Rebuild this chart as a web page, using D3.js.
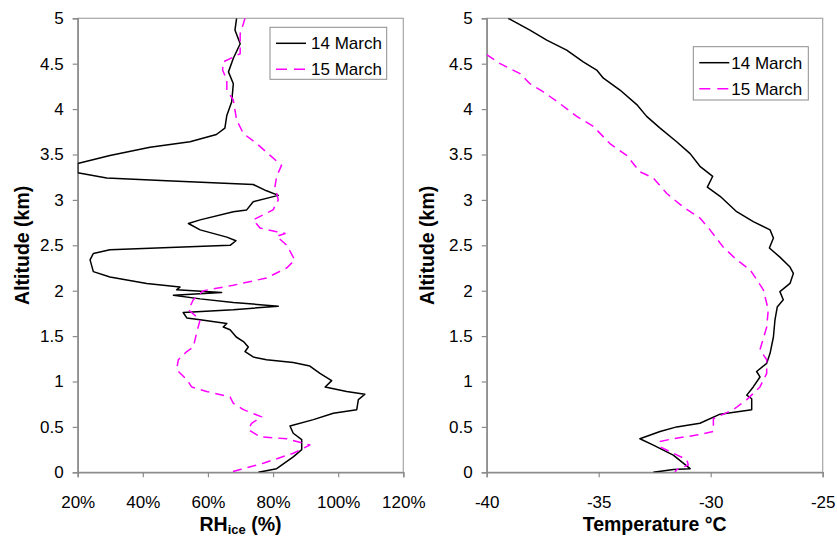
<!DOCTYPE html>
<html><head><meta charset="utf-8">
<script src="https://cdn.jsdelivr.net/npm/d3@7"></script>
<style>
body{margin:0;background:#fff;}
text{font-family:Arial,"Liberation Sans",sans-serif;fill:#000;}
</style></head>
<body>
<svg id="c" width="837" height="537"></svg>
<script>
// ---- data ----
const seriesNames = ["14 March", "15 March"];
const altTicks = [0,0.5,1,1.5,2,2.5,3,3.5,4,4.5,5];
const rhTicks = [20,40,60,80,100,120];
const tTicks = [-40,-35,-30,-25];

const rh14Alt = [5,4.87,4.72,4.56,4.41,4.28,4.08,3.93,3.79,3.72,3.64,3.58,3.49,3.4,3.30,3.24,3.21,3.17,3.1,3.05,2.98,2.89,2.87,2.78,2.74,2.67,2.59,2.55,2.50,2.48,2.45,2.41,2.34,2.21,2.15,2.08,2.04,2.01,1.98,1.95,1.91,1.87,1.83,1.79,1.76,1.70,1.68,1.64,1.60,1.57,1.49,1.44,1.38,1.33,1.27,1.24,1.21,1.17,1.09,1.01,0.94,0.89,0.86,0.80,0.69,0.65,0.58,0.51,0.43,0.36,0.25,0.17,0.04,0];
const rh14 = [68.8,68.3,69.9,67.8,66.3,67.8,67.3,65.8,65.2,62.6,54.5,42.2,29.9,20,20,28.9,47.3,73.9,78.0,81.6,73.9,71.9,67.8,57.6,54.0,57.6,65.8,68.6,66.8,52.4,29.9,24.8,23.8,24.8,29.9,41.2,51.4,50.4,64.2,49.4,57.6,67.8,81.6,67.8,52.4,53.5,57.6,65.8,64.7,66.8,68.7,70.9,72.4,71.4,73.9,78.0,86.2,91.3,94.4,98.0,96.0,102.6,108.2,106.2,105.7,98.5,92.4,85.2,86.2,88.8,88.8,86.2,81.1,75.5];

const rh15Alt = [5,4.83,4.68,4.61,4.52,4.43,4.32,4.21,4.10,3.88,3.73,3.62,3.49,3.38,3.26,3.15,3.0,2.89,2.78,2.69,2.65,2.63,2.60,2.50,2.37,2.34,2.25,2.14,2.06,2.0,1.90,1.79,1.68,1.53,1.38,1.33,1.24,1.13,1.02,0.94,0.89,0.83,0.76,0.69,0.61,0.54,0.47,0.39,0.37,0.30,0.21,0.10,0.03,0];
const rh15 = [71.4,69.9,69.9,69.9,64.7,64.5,65.8,65.8,67.8,68.8,70.9,75.0,79.1,82.6,81.1,80.6,81.6,80.0,73.9,76.0,81.1,83.7,81.1,84.2,86.2,86.7,84.2,78.0,67.8,58.6,55.5,54.0,57.6,56.5,55.5,53.5,50.9,50.4,53.5,55.0,59.6,66.8,67.8,70.9,76.5,73.4,72.4,76.0,84.2,91.3,86.2,77.0,69.9,66.8];

const t14Alt = [5,4.87,4.76,4.65,4.52,4.43,4.34,4.21,4.05,3.92,3.79,3.64,3.51,3.37,3.26,3.14,3.04,2.87,2.76,2.67,2.58,2.47,2.37,2.26,2.19,2.08,1.99,1.90,1.82,1.68,1.49,1.31,1.20,1.11,1.05,0.94,0.85,0.81,0.69,0.64,0.54,0.50,0.45,0.37,0.30,0.19,0.04,0.03,0];
const t14 = [-39.04,-38.07,-37.32,-36.43,-35.69,-35.09,-34.79,-34.05,-33.30,-32.86,-32.26,-31.52,-30.92,-30.48,-29.91,-30.15,-29.58,-28.84,-28.10,-27.35,-27.20,-27.38,-26.91,-26.46,-26.31,-26.46,-26.91,-26.76,-27.03,-27.13,-27.20,-27.35,-27.50,-27.95,-27.80,-28.10,-28.39,-28.17,-28.17,-29.58,-30.48,-31.52,-32.26,-33.16,-32.56,-31.67,-30.92,-31.67,-32.56];

const t15Alt = [4.60,4.50,4.39,4.28,4.19,4.06,3.92,3.81,3.62,3.49,3.31,3.24,3.07,2.92,2.80,2.67,2.48,2.34,2.23,2.01,1.79,1.60,1.35,1.24,1.09,0.94,0.80,0.69,0.59,0.45,0.41,0.37,0.34,0.28,0.21,0.14,0.08,0.03,0];
const t15 = [-40,-39.40,-38.51,-38.07,-37.47,-36.73,-35.98,-35.24,-34.50,-33.75,-33.16,-32.56,-31.96,-31.22,-30.48,-30.03,-29.44,-28.84,-28.24,-27.65,-27.43,-27.50,-27.80,-27.50,-27.50,-27.80,-28.39,-28.99,-29.88,-29.88,-30.63,-31.67,-32.26,-32.26,-31.67,-31.07,-31.00,-31.52,-31.60];

// ---- drawing ----
const svg = d3.select("#c");
const yTop = 18.3, yBot = 472.3;
const y = d3.scaleLinear().domain([0,5]).range([yBot, yTop]);
const xL = d3.scaleLinear().domain([20,120]).range([77.7, 403.3]);
const xR = d3.scaleLinear().domain([-40,-25]).range([486.7, 822.7]);
const gray = "#8c8c8c";

function panel(x, ticks, fmt, title, series, legendPos, titleSub, yTitleX, textDx) {
  const g = svg.append("g");
  const [x0, x1] = x.range();
  const id = "clip" + Math.round(x0);
  svg.append("clipPath").attr("id", id).append("rect")
    .attr("x", x0).attr("y", yTop).attr("width", x1 - x0).attr("height", yBot - yTop);
  g.append("rect").attr("x", x0).attr("y", yTop).attr("width", x1 - x0).attr("height", yBot - yTop)
    .attr("fill", "none").attr("stroke", "#a6a6a6").attr("stroke-width", 1.2);
  const ya = g.append("g").attr("transform", `translate(${x0},0)`)
    .call(d3.axisLeft(y).tickValues(altTicks).tickSize(5).tickPadding(9).tickFormat(d3.format("")));
  const xa = g.append("g").attr("transform", `translate(0,${yBot})`)
    .call(d3.axisBottom(x).tickValues(ticks).tickSize(5).tickPadding(19).tickFormat(fmt));
  [ya, xa].forEach(a => {
    a.select(".domain").attr("stroke", gray).attr("stroke-width", 1.5);
    a.selectAll(".tick line").attr("stroke", gray).attr("stroke-width", 1.2);
    a.selectAll(".tick text").attr("font-size", 17).attr("font-family", "Arial, 'Liberation Sans', sans-serif").attr("fill", "#000");
  });
  series.forEach(s => {
    const pts = s.alt.map((a, i) => [s.val[i], a]);
    g.append("path").datum(pts)
      .attr("clip-path", `url(#${id})`)
      .attr("fill", "none").attr("stroke", s.color).attr("stroke-width", s.w)
      .attr("stroke-dasharray", s.dash || null)
      .attr("stroke-linejoin", "round")
      .attr("d", d3.line().x(d => x(d[0])).y(d => y(d[1])));
  });
  g.append("text")
    .attr("transform", `translate(${yTitleX},${(yTop + yBot) / 2}) rotate(-90)`)
    .attr("text-anchor", "middle").attr("font-weight", "bold").attr("font-size", 19.5)
    .text("Altitude (km)");
  const xt = g.append("text").attr("x", (x0 + x1) / 2).attr("y", 530.5)
    .attr("text-anchor", "middle").attr("font-weight", "bold").attr("font-size", 19.5);
  if (titleSub) {
    xt.append("tspan").text(title);
    xt.append("tspan").attr("font-size", 13).attr("dy", 3).text(titleSub);
    xt.append("tspan").attr("dy", -3).text(" (%)");
  } else {
    xt.text(title);
  }
  const [lx, ly, lw, lh] = legendPos;
  const lg = g.append("g");
  lg.append("rect").attr("x", lx).attr("y", ly).attr("width", lw).attr("height", lh)
    .attr("fill", "#fff").attr("stroke", "#8c8c8c").attr("stroke-width", 1);
  series.forEach((s, i) => {
    const cy = ly + 16 + i * 26;
    lg.append("line").attr("x1", lx + 6).attr("x2", lx + 36).attr("y1", cy).attr("y2", cy)
      .attr("stroke", s.color).attr("stroke-width", s.w).attr("stroke-dasharray", s.dash ? "11,7" : null);
    lg.append("text").attr("x", lx + textDx).attr("y", cy + 6).attr("font-size", 17).text(seriesNames[i]);
  });
}

panel(xL, rhTicks, d => d + "%", "RH", [
  {alt: rh14Alt, val: rh14, color: "#000", w: 1.5},
  {alt: rh15Alt, val: rh15, color: "#ff00ff", w: 1.5, dash: "9,6"}
], [270, 27.3, 116.7, 52], "ice", 29, 41);

panel(xR, tTicks, d => d, "Temperature °C", [
  {alt: t14Alt, val: t14, color: "#000", w: 1.5},
  {alt: t15Alt, val: t15, color: "#ff00ff", w: 1.5, dash: "9,6"}
], [693.3, 46.7, 115, 53.3], null, 434, 38);
</script>
</body></html>
